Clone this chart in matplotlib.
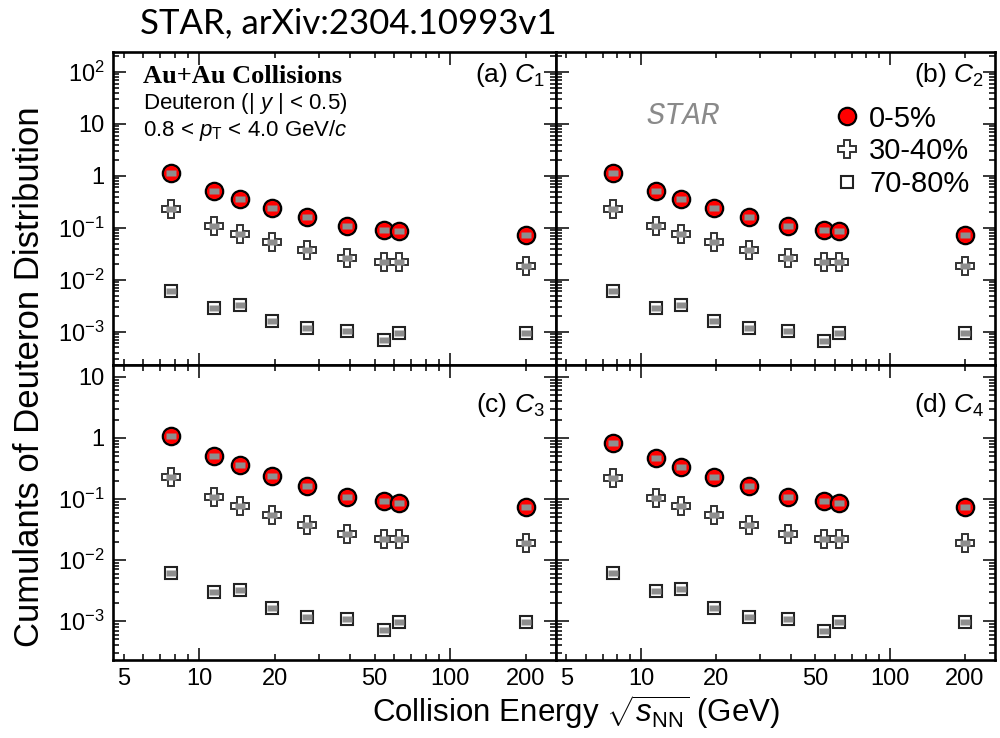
import math
import matplotlib
matplotlib.use("Agg")
import matplotlib.pyplot as plt
from matplotlib.ticker import FixedLocator, FuncFormatter, NullFormatter
from matplotlib.lines import Line2D

plt.rcParams['font.family'] = ['Liberation Sans', 'DejaVu Sans']
plt.rcParams['mathtext.fontset'] = 'custom'
plt.rcParams['mathtext.rm'] = 'Liberation Sans'
plt.rcParams['mathtext.it'] = 'Liberation Sans:italic'
plt.rcParams['mathtext.bf'] = 'Liberation Sans:bold'

# Collision energies (GeV)
energies = [7.7, 11.5, 14.5, 19.6, 27, 39, 54.4, 62.4, 200]
centralities = ['0-5%', '30-40%', '70-80%']

# Deuteron cumulants C1..C4 for three centrality classes
c1_0_5 = [1.16, 0.515, 0.36, 0.239, 0.160, 0.109, 0.0916, 0.0875, 0.073]
c1_30_40 = [0.232, 0.108, 0.077, 0.054, 0.037, 0.026, 0.0216, 0.0218, 0.0184]
c1_70_80 = [0.0061, 0.0029, 0.00326, 0.00163, 0.00118, 0.00106, 0.00069, 0.00095, 0.00097]

c2_0_5 = [1.14, 0.515, 0.357, 0.239, 0.163, 0.109, 0.090, 0.086, 0.073]
c2_30_40 = [0.229, 0.108, 0.077, 0.054, 0.0375, 0.026, 0.0219, 0.0219, 0.0186]
c2_70_80 = [0.0061, 0.0029, 0.0033, 0.00163, 0.00117, 0.00105, 0.00068, 0.00096, 0.00097]

c3_0_5 = [1.06, 0.50, 0.355, 0.237, 0.161, 0.109, 0.0914, 0.087, 0.0736]
c3_30_40 = [0.226, 0.107, 0.0776, 0.0545, 0.038, 0.0263, 0.022, 0.022, 0.0189]
c3_70_80 = [0.00624, 0.0030, 0.00328, 0.00164, 0.00118, 0.00107, 0.000703, 0.00097, 0.00097]

c4_0_5 = [0.83, 0.477, 0.33, 0.226, 0.163, 0.107, 0.092, 0.0855, 0.0747]
c4_30_40 = [0.221, 0.1035, 0.0776, 0.0545, 0.0373, 0.0263, 0.022, 0.022, 0.0187]
c4_70_80 = [0.0062, 0.00312, 0.00336, 0.00164, 0.00118, 0.00107, 0.0007, 0.00096, 0.00097]

panel_labels = ['(a) $C_{1}$', '(b) $C_{2}$', '(c) $C_{3}$', '(d) $C_{4}$']
panel_data = [
    (c1_0_5, c1_30_40, c1_70_80),
    (c2_0_5, c2_30_40, c2_70_80),
    (c3_0_5, c3_30_40, c3_70_80),
    (c4_0_5, c4_30_40, c4_70_80),
]

x_major = [10, 100]
x_minor = [5, 6, 7, 8, 9, 20, 30, 40, 50, 60, 70, 80, 90, 200]
x_minor_labels = {5: '5', 20: '20', 50: '50', 200: '200'}
y_major_top = [1e-3, 1e-2, 1e-1, 1, 10, 100]
y_major_bottom = [1e-3, 1e-2, 1e-1, 1, 10]

fig = plt.figure(figsize=(10, 7.38), dpi=100)

L, M, R = 0.113, 0.556, 0.995
B, MID, T = 1 - 660 / 738, 1 - 365 / 738, 1 - 52 / 738
rects = [
    (L, MID, M - L, T - MID),
    (M, MID, R - M, T - MID),
    (L, B, M - L, MID - B),
    (M, B, R - M, MID - B),
]

syst_box = [(-1, -0.6), (1, -0.6), (1, 0.6), (-1, 0.6), (-1, -0.6)]


def ylabel_fmt(v, pos):
    if abs(v - 1) < 1e-9:
        return '1'
    if abs(v - 10) < 1e-9:
        return '10'
    return r'$10^{%d}$' % int(round(math.log10(v)))


def minor_decades(lo_exp, hi_exp):
    return [m * 10.0 ** e for e in range(lo_exp, hi_exp) for m in range(2, 10)]


axes = []
for i, rect in enumerate(rects):
    ax = fig.add_axes(rect)
    axes.append(ax)
    ax.set_xscale('log')
    ax.set_yscale('log')
    ax.set_xlim(4.54, 264)
    if i < 2:
        ax.set_ylim(2.3e-4, 243)
        ymaj = y_major_top
    else:
        ax.set_ylim(2.3e-4, 15.7)
        ymaj = y_major_bottom

    central, mid, peripheral = panel_data[i]
    ax.plot(energies, peripheral, ls='none', marker='s', ms=9.2, mfc='white',
            mec='#222222', mew=1.5, zorder=3)
    ax.plot(energies, mid, ls='none', marker='P', ms=12.5, mfc='white',
            mec='#333333', mew=1.4, zorder=3)
    ax.plot(energies, central, ls='none', marker='o', ms=12.5, mfc='#ff0000',
            mec='black', mew=1.6, zorder=3)
    for series in (central, mid, peripheral):
        ax.plot(energies, series, ls='none', marker=syst_box, ms=6.5,
                mfc='#8e8e8e', mec='none', zorder=4)

    # axes styling
    for sp in ax.spines.values():
        sp.set_linewidth(1.9)
    ax.xaxis.set_major_locator(FixedLocator(x_major))
    ax.xaxis.set_minor_locator(FixedLocator(x_minor))
    ax.yaxis.set_major_locator(FixedLocator(ymaj))
    ylo, yhi = ax.get_ylim()
    ax.yaxis.set_minor_locator(FixedLocator(
        [v for v in minor_decades(-4, 3) if ylo < v < yhi]))
    ax.yaxis.set_minor_formatter(NullFormatter())
    ax.tick_params(which='both', direction='in', top=True, right=True,
                   width=1.1, labelsize=17)
    ax.tick_params(which='major', length=9)
    ax.tick_params(which='minor', length=4.5)
    ax.tick_params(axis='x', which='both', pad=6)
    ax.tick_params(axis='y', which='both', pad=6)

    if i >= 2:
        ax.xaxis.set_major_formatter(FuncFormatter(lambda v, p: '%d' % v))
        ax.xaxis.set_minor_formatter(
            FuncFormatter(lambda v, p: x_minor_labels.get(int(round(v)), '')))
    else:
        ax.xaxis.set_major_formatter(NullFormatter())
        ax.xaxis.set_minor_formatter(NullFormatter())

    if i in (0, 2):
        ax.yaxis.set_major_formatter(FuncFormatter(ylabel_fmt))
    else:
        ax.yaxis.set_major_formatter(NullFormatter())

    ly = 0.927 if i < 2 else 0.864
    ax.text(0.975, ly, panel_labels[i], transform=ax.transAxes, ha='right',
            va='center', fontsize=19)

# descriptive text in panel (a)
ax = axes[0]
ax.text(0.068, 0.922, 'Au+Au Collisions', transform=ax.transAxes, ha='left',
        va='center', fontsize=19, fontweight='bold', family='Liberation Serif')
ax.text(0.068, 0.835, 'Deuteron (| $y$ | < 0.5)', transform=ax.transAxes,
        ha='left', va='center', fontsize=16)
ax.text(0.068, 0.749, r'0.8 < $p_{\mathrm{T}}$ < 4.0 GeV/$c$',
        transform=ax.transAxes, ha='left', va='center', fontsize=16)

# legend and STAR tag in panel (b)
ax = axes[1]
handles = [
    Line2D([], [], ls='none', marker='o', ms=12.5, mfc='#ff0000', mec='black', mew=1.6),
    Line2D([], [], ls='none', marker='P', ms=12.5, mfc='white', mec='#333333', mew=1.4),
    Line2D([], [], ls='none', marker='s', ms=9.2, mfc='white', mec='#222222', mew=1.5),
]
ax.legend(handles, centralities, loc='upper left', bbox_to_anchor=(0.634, 0.832),
          frameon=False, fontsize=21, handlelength=0.9, handletextpad=0.3,
          borderpad=0, borderaxespad=0, labelspacing=0.16)
ax.text(0.289, 0.794, 'STAR', transform=ax.transAxes, ha='center', va='center',
        fontsize=22, color='#8a8a8a', family='Liberation Mono', style='italic')

fig.text(0.03, 0.489, 'Cumulants of Deuteron Distribution', rotation=90,
         ha='center', va='center', fontsize=25)
fig.text(0.576, 0.035, r'Collision Energy $\sqrt{s_{\mathrm{NN}}}$ (GeV)',
         ha='center', va='center', fontsize=22.5)
fig.text(0.14, 0.968, 'STAR, arXiv:2304.10993v1', ha='left', va='center',
         fontsize=25, family='Lato')

fig.savefig('out.png', dpi=100)
